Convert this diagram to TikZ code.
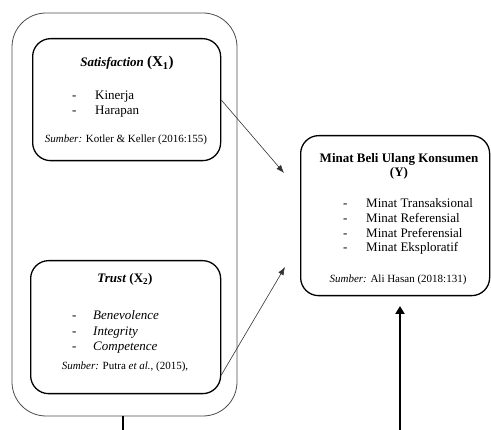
\documentclass[tikz,border=0pt]{standalone}
\usepackage{fontspec}
\setmainfont{Liberation Serif}
\usetikzlibrary{arrows.meta}
\begin{document}
\begin{tikzpicture}[x=1pt,y=-1pt,
  outerbox/.style={draw=black!70, line width=0.8pt, rounded corners=34pt},
  innerbox/.style={draw=black, line width=1.3pt, rounded corners=18pt},
  txt/.style={font=\fontsize{13}{15}\selectfont, anchor=base west, inner sep=0pt},
  src/.style={font=\fontsize{11}{13}\selectfont, anchor=base, inner sep=0pt},
  ttl/.style={font=\fontsize{13}{15}\selectfont\bfseries, anchor=base, inner sep=0pt},
  thinarrow/.style={draw=black!80, line width=0.6pt, -{Latex[length=8pt,width=6pt]}},
  thickline/.style={draw=black, line width=2.8pt},
]
\useasboundingbox (0,0) rectangle (491,430);
% outer group
\draw[outerbox] (12,13) rectangle (237,416);
% boxes
\node[innerbox, minimum width=188pt, minimum height=122pt, anchor=north west] (sat) at (32,38) {};
\node[innerbox, minimum width=190pt, minimum height=133pt, anchor=north west] (tru) at (30,260) {};
\node[innerbox, minimum width=189pt, minimum height=160pt, anchor=north west] (y) at (300,135) {};

% Satisfaction text
\node[ttl] (t1) at (127,67) {\textit{Satisfaction} {\fontsize{15}{17}\selectfont (X\textsubscript{1})}};
\node[txt] (s1d) at (72,100) {-};
\node[txt] (s1) at (95,100) {Kinerja};
\node[txt] (s2d) at (72,115) {-};
\node[txt] (s2) at (95,115) {Harapan};
\node[src] (s3) at (126,143) {\textit{Sumber:} Kotler \& Keller (2016:155)};

% Trust text
\node[ttl] (t2) at (125,283) {\textit{Trust} (X\textsubscript{2})};
\node[txt] (r1d) at (72,320) {-};
\node[txt] (r1) at (93,320) {\textit{Benevolence}};
\node[txt] (r2d) at (72,336) {-};
\node[txt] (r2) at (93,336) {\textit{Integrity}};
\node[txt] (r3d) at (72,351) {-};
\node[txt] (r3) at (93,351) {\textit{Competence}};
\node[src] (r4) at (125,370) {\textit{Sumber:} Putra \textit{et al.}, (2015),};

% Y text
\node[ttl] (t3) at (399,163) {Minat Beli Ulang Konsumen};
\node[ttl] (t3b) at (399,177) {(Y)};
\node[txt] (y1d) at (343,208) {-};
\node[txt] (y1) at (366,208) {Minat Transaksional};
\node[txt] (y2d) at (343,223) {-};
\node[txt] (y2) at (366,223) {Minat Referensial};
\node[txt] (y3d) at (343,238) {-};
\node[txt] (y3) at (366,238) {Minat Preferensial};
\node[txt] (y4d) at (343,252) {-};
\node[txt] (y4) at (366,252) {Minat Eksploratif};
\node[src] (y5) at (398,283) {\textit{Sumber:} Ali Hasan (2018:131)};

% arrows
\coordinate (a1e) at (284,173);
\coordinate (a2e) at (285,267);
\draw[thinarrow] (sat.east |- 0,100) -- (a1e);
\draw[thinarrow] (tru.east |- 0,375) -- (a2e);

% thick lines
\coordinate (lt) at (123,416);
\coordinate (lb) at (123,430);
\coordinate (rb) at (400,430);
\coordinate (rt) at (400,306);
\draw[thickline] (lt) -- (lb);
\draw[thickline, -{Triangle[length=8pt,width=9pt]}] (rb) -- (rt);
\end{tikzpicture}
\end{document}
